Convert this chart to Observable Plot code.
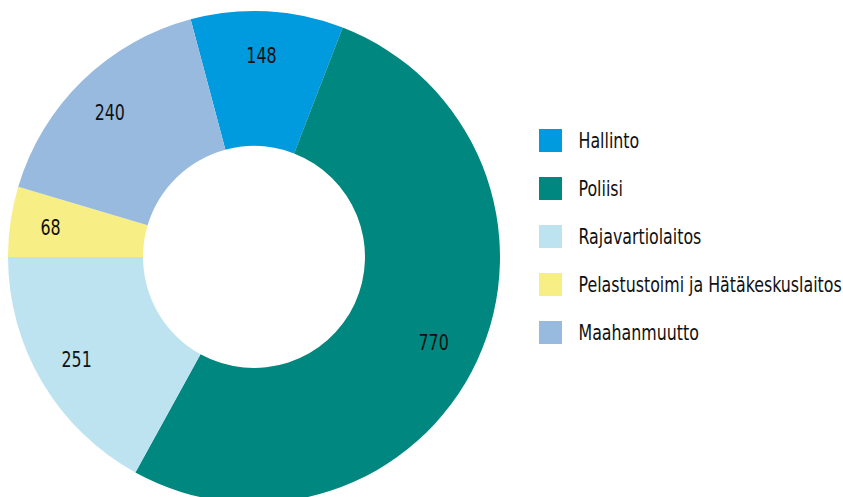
<!DOCTYPE html>
<html>
<head>
<meta charset="utf-8">
<script src="https://cdn.jsdelivr.net/npm/d3@7"></script>
<script src="https://cdn.jsdelivr.net/npm/@observablehq/plot@0.6"></script>
<style>
  html, body { margin: 0; padding: 0; background: #fff; }
  #chart svg { display: block; }
</style>
</head>
<body>
<div id="chart"></div>
<script>
const categories = ["Hallinto", "Poliisi", "Rajavartiolaitos", "Pelastustoimi ja Hätäkeskuslaitos", "Maahanmuutto"];
const values = [148, 770, 251, 68, 240];
const colors = ["#009ADE", "#00877F", "#BDE3F0", "#F7EE85", "#99BADF"];

const W = 843, H = 497;
const FONT = "'DejaVu Sans Condensed', 'Liberation Sans Narrow', sans-serif";
const CX = 254, CY = 257, R_OUT = 246, R_IN = 111, R_LABEL = 202, LABEL_DX = -4;
const SQUEEZE = 0.8;
const FS = 22;

const data = categories.map((name, i) => ({name, value: values[i], color: colors[i]}));
const total = d3.sum(values);
const start = 1.5 * Math.PI - 2 * Math.PI * (values[0] + values[1] + values[2]) / total;
const pie = d3.pie().value(d => d.value).sort(null).startAngle(start).endAngle(start + 2 * Math.PI);
const arcs = pie(data);

const labels = arcs.map(a => {
  const m = (a.startAngle + a.endAngle) / 2;
  return {text: String(a.data.value), x: CX + LABEL_DX + R_LABEL * Math.sin(m), y: CY - R_LABEL * Math.cos(m)};
});

const legend = data.map((d, i) => ({...d, i}));
const LEG_X = 539, LEG_Y = 140.5, LEG_STEP = 48, SW = 23;

function donut(index, scales, values, dimensions) {
  const sx = scales && scales.x ? scales.x : (v => v);
  const sy = scales && scales.y ? scales.y : (v => v);
  const g = d3.create("svg:g").attr("transform", `translate(${sx(CX)},${sy(CY)})`);
  const arcGen = d3.arc().innerRadius(R_IN).outerRadius(R_OUT);
  g.selectAll("path").data(arcs).join("path")
    .attr("d", arcGen)
    .attr("fill", d => d.data.color);
  return g.node();
}

const chart = Plot.plot({
  width: W,
  height: H,
  margin: 0,
  style: {fontFamily: FONT, background: "#fff"},
  x: {domain: [0, W], range: [0, W], axis: null},
  y: {domain: [0, H], range: [0, H], axis: null},
  marks: [
    donut,
    Plot.text(labels, {x: "x", y: "y", text: "text", fontSize: FS, fill: "#111", fontFamily: FONT}),
    Plot.rect(legend, {
      x1: LEG_X, x2: LEG_X + SW,
      y1: d => LEG_Y + d.i * LEG_STEP - SW / 2,
      y2: d => LEG_Y + d.i * LEG_STEP + SW / 2,
      fill: d => d.color
    }),
    Plot.text(legend, {
      x: LEG_X + SW + 16,
      y: d => LEG_Y + d.i * LEG_STEP,
      text: "name",
      textAnchor: "start",
      fontSize: FS,
      fill: "#111",
      fontFamily: FONT
    })
  ]
});
document.getElementById("chart").appendChild(chart);
// condense text horizontally (about its anchor) to mimic the narrow typeface
chart.querySelectorAll("text").forEach(t => {
  const anchor = t.getAttribute("text-anchor") || (t.parentNode && t.parentNode.getAttribute && t.parentNode.getAttribute("text-anchor")) || "middle";
  const wrap = document.createElementNS("http://www.w3.org/2000/svg", "g");
  t.parentNode.insertBefore(wrap, t);
  wrap.appendChild(t);
  const bb = wrap.getBBox();
  const ax = anchor === "start" ? bb.x : anchor === "end" ? bb.x + bb.width : bb.x + bb.width / 2;
  wrap.setAttribute("transform", `translate(${ax},0) scale(${SQUEEZE},1) translate(${-ax},0)`);
});
</script>
</body>
</html>
